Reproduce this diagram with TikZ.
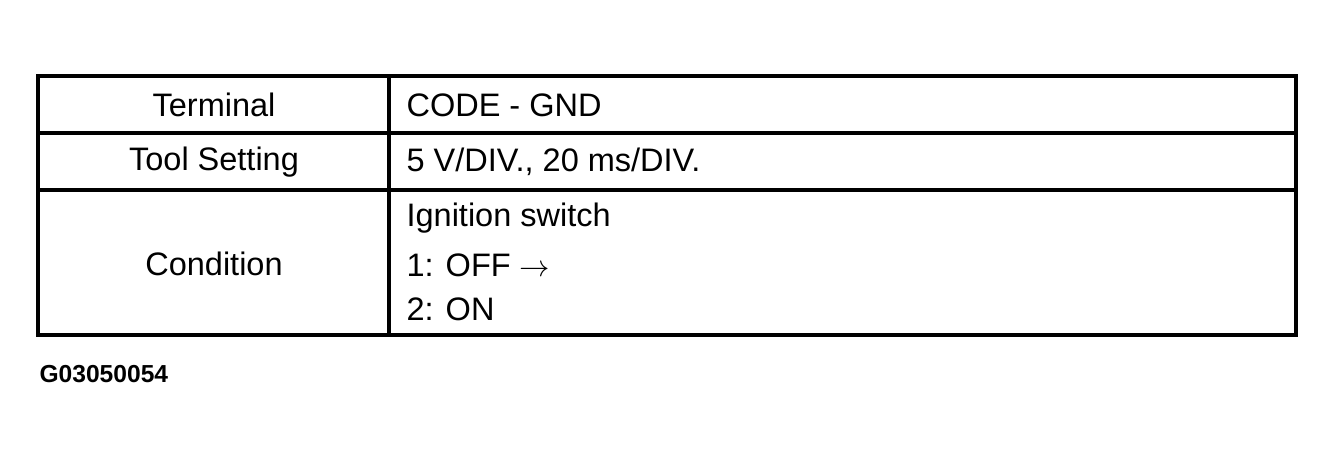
\documentclass[tikz,border=0pt]{standalone}
\usepackage{fontspec}
\setmainfont{Liberation Sans}
\begin{document}
\begin{tikzpicture}[x=0.02cm,y=-0.02cm,line width=1.8pt]
	\tikzstyle{head}=[inner sep=0pt,font=\fontsize{18.5pt}{21pt}\selectfont]
	\tikzstyle{cell}=[anchor=west,inner sep=0pt,font=\fontsize{18.5pt}{21pt}\selectfont]
	\tikzstyle{code}=[anchor=west,inner sep=0pt,font=\fontsize{14pt}{16pt}\selectfont\bfseries]
	\useasboundingbox (0,0) rectangle (1334,456);
	% frame and rules
	\draw (38,76) rectangle (1296,335);
	\draw (389,76) -- (389,335);
	\draw (38,133) -- (1296,133);
	\draw (38,190) -- (1296,190);
	% left column
	\node[head] (terminal)	at (214,105)	{Terminal};
	\node[head] (tool)	at (214,162)	{Tool Setting};
	\node[head] (cond)	at (214,264)	{Condition};
	% right column
	\node[cell] (pins)	at (405,105)	{CODE - GND};
	\node[cell] (range)	at (405,162)	{5 V/DIV., 20 ms/DIV.};
	\node[cell] (ig)	at (405,218)	{Ignition switch};
	\node[cell] (off)	at (405,265)	{1: OFF $\rightarrow$};
	\node[cell] (on)	at (405,309)	{2: ON};
	\node[code] (fig)	at (38,374)	{G03050054};
\end{tikzpicture}
\end{document}
